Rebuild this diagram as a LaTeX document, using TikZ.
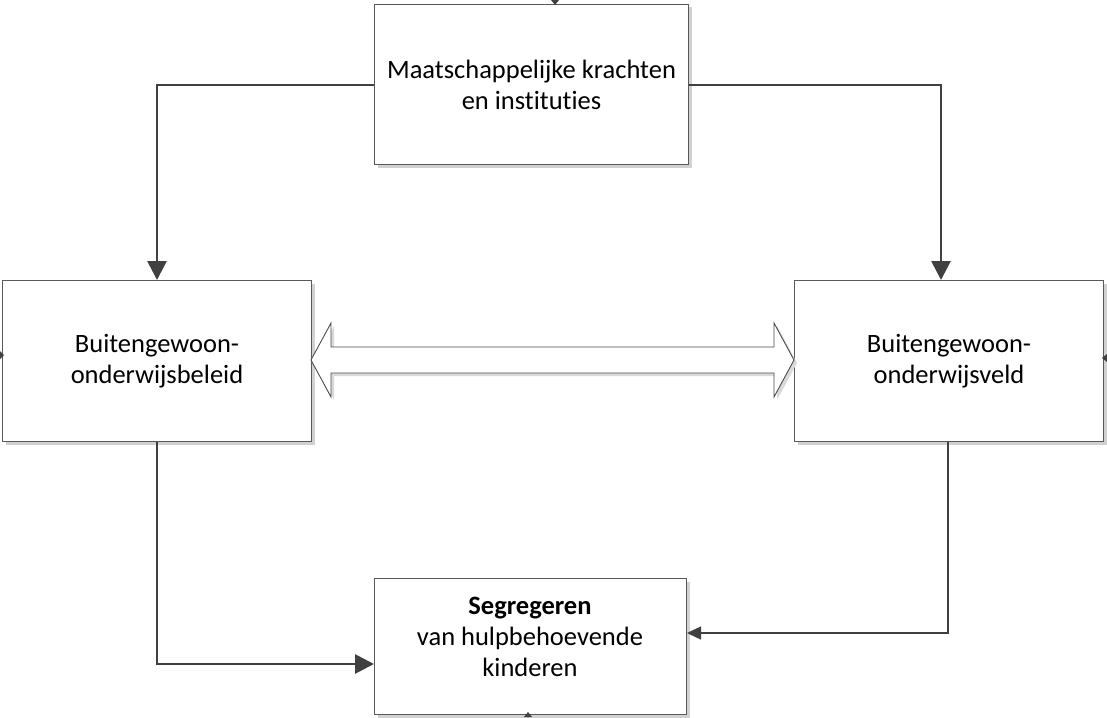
\documentclass[tikz,border=0pt]{standalone}
\usepackage{fontspec}
\setmainfont{Carlito}[RawFeature={-liga;-clig;-dlig}]
\usetikzlibrary{arrows.meta,shadows,positioning}
\tikzset{
  box/.style={draw=black!65, line width=1pt, fill=white, align=center,
    font=\fontsize{26.5}{31}\selectfont,
    drop shadow={shadow xshift=3pt, shadow yshift=-3pt, fill=black!18, opacity=1}},
  conn/.style={draw=black!75, line width=2.8pt, -{Triangle[length=19pt,width=19pt]}},
  connthin/.style={draw=black!75, line width=1.4pt, -{Triangle[length=14pt,width=13pt]}},
  tick/.style={fill=black!75, draw=none}
}
\begin{document}
\begin{tikzpicture}[x=1pt,y=-1pt]
\useasboundingbox (0,0) rectangle (1107,717);
\begin{scope}
\clip (0,0) rectangle (1107,717);
\node[box, minimum width=314pt, minimum height=160pt, anchor=north west] (top) at (374,4) {Maatschappelijke krachten\\en instituties};
\node[box, minimum width=309pt, minimum height=161pt, anchor=north west] (left) at (2,280) {Buitengewoon-\\onderwijsbeleid};
\node[box, minimum width=309pt, minimum height=161pt, anchor=north west] (right) at (794,280) {Buitengewoon-\\onderwijsveld};
\node[box, minimum width=312pt, minimum height=136pt, anchor=north west] (bot) at (374,578) {};
\node[align=center, font=\fontsize{26.5}{31}\selectfont] (bottxt) at (530,637) {\textbf{Segregeren}\\van hulpbehoevende\\kinderen};
% double arrow
\path[draw=black!70, line width=0.9pt, fill=white,
  drop shadow={shadow xshift=3pt, shadow yshift=-3pt, fill=black!15, opacity=1}]
  (311,360) -- (331,323) -- (331,347) -- (774,347) -- (774,323) -- (794,360)
  -- (774,397) -- (774,373) -- (331,373) -- (331,397) -- cycle;
% connectors
\coordinate (c1) at (157,85);
\coordinate (c2) at (941,85);
\coordinate (c3) at (157,664);
\coordinate (c4) at (948,633);
\draw[conn] (top.west |- c1) -- (c1) -- (c1 |- left.north);
\draw[conn] (top.east |- c2) -- (c2) -- (c2 |- right.north);
\draw[conn] (c3 |- left.south) -- (c3) -- (bot.west |- c3);
\draw[connthin] (c4 |- right.south) -- (c4) -- (bot.east |- c4);
% small ticks
\fill[tick] (551,0) -- (559,0) -- (555,5) -- cycle;
\fill[tick] (524,717) -- (532,717) -- (528,712) -- cycle;
\fill[tick] (0,351) -- (0,359) -- (4,355) -- cycle;
\fill[tick] (1107,354) -- (1107,362) -- (1102,358) -- cycle;
\end{scope}
\end{tikzpicture}
\end{document}
